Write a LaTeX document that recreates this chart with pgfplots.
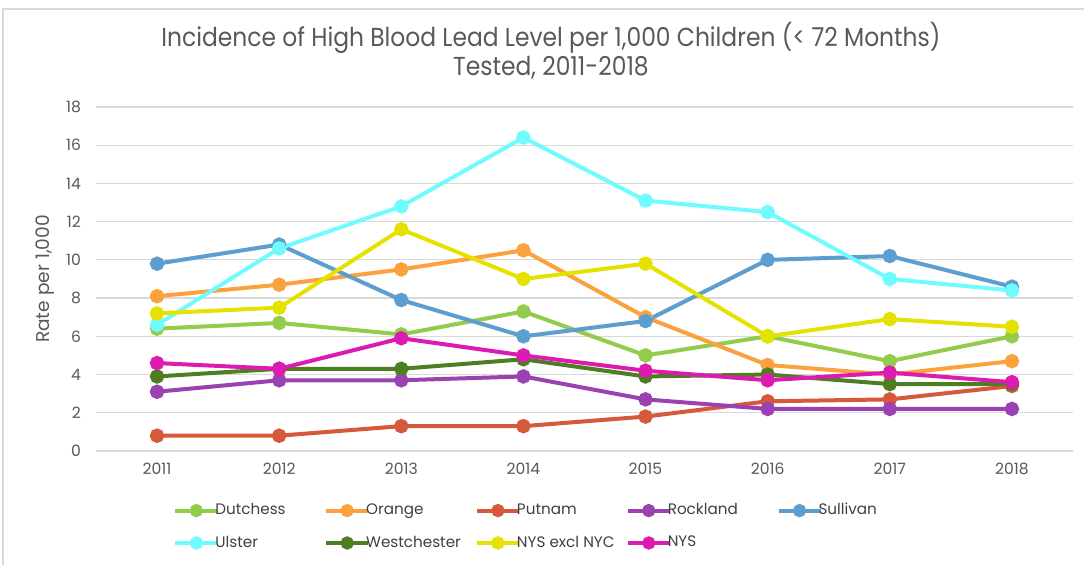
\documentclass[border=0pt]{standalone}
\usepackage{fontspec}
\setmainfont{Poppins}[FakeStretch=0.8]
\newfontfamily\tickfont{Poppins}
\newfontfamily\titlefont{Poppins}[FakeStretch=0.9]
\usepackage{pgfplots}
\pgfplotsset{compat=1.18}

\definecolor{cDut}{HTML}{92CC4A}
\definecolor{cOra}{HTML}{FBA23F}
\definecolor{cPut}{HTML}{D5593A}
\definecolor{cRoc}{HTML}{9A42B2}
\definecolor{cSul}{HTML}{5C9ECF}
\definecolor{cUls}{HTML}{70FBFF}
\definecolor{cWes}{HTML}{4F7E22}
\definecolor{cNyx}{HTML}{E6E200}
\definecolor{cNys}{HTML}{DD1BB0}
\definecolor{gridgray}{HTML}{D9D9D9}
\definecolor{txtgray}{HTML}{595959}
\definecolor{legtext}{HTML}{404040}

\newcommand{\legtxt}[1]{\makebox[51.4pt][l]{\hspace*{-2.5pt}#1}}

\begin{document}
\begin{tikzpicture}
\useasboundingbox (0,0) rectangle (542pt,282.5pt);
\fill[white] (0,0) rectangle (542pt,282.5pt);
\draw[gridgray, line width=0.6pt] (1.5pt,0) -- (1.5pt,278pt) -- (542pt,278pt);

\node[text=txtgray, font=\titlefont\fontsize{13}{15}\selectfont] at (275.5pt,263.5pt)
  {Incidence of High Blood Lead Level per 1,000 Children (< 72 Months)};
\node[text=txtgray, font=\titlefont\fontsize{13}{15}\selectfont] at (275.5pt,248.5pt)
  {Tested, 2011-2018};

\begin{axis}[
    at={(48pt,57pt)}, anchor=south west,
    scale only axis,
    width=488.5pt, height=172pt,
    xmin=2010.5, xmax=2018.5,
    ymin=0, ymax=18,
    xtick={2011,...,2018},
    ytick={0,2,...,18},
    xticklabel style={/pgf/number format/1000 sep={}, yshift=-2.5pt},
    yticklabel style={xshift=-4pt},
    /pgf/number format/assume math mode=true,
    tick label style={font=\tickfont\fontsize{7.8}{9}\selectfont, text=txtgray},
    major tick length=0pt,
    axis line style={draw=none},
    ymajorgrids=true,
    grid style={gridgray, line width=0.6pt},
    ylabel={Rate per 1,000},
    every axis y label/.style={at={(axis description cs:-0.0522,0.5)}, rotate=90, anchor=center},
    label style={font=\tickfont\fontsize{9.3}{11}\selectfont, text=txtgray},
    every axis plot/.append style={line width=2pt, mark=*, mark size=2.6pt},
    legend columns=5,
    legend style={at={(axis description cs:0.0788,-0.148)}, anchor=north west,
        draw=none, fill=none, inner sep=0pt, row sep=8pt,
        font=\tickfont\fontsize{7.6}{9}\selectfont, text=legtext,
        nodes={inner sep=0.5pt}},
    legend cell align=left,
    legend image code/.code={\draw[mark repeat=2,mark phase=2,#1,mark size=2.3pt]
        plot coordinates {(0pt,0pt) (10.5pt,0pt) (21pt,0pt)};},
]
\addplot[color=cDut, mark options={fill=cDut}] coordinates {
  (2011,6.4) (2012,6.7) (2013,6.1) (2014,7.3) (2015,5.0) (2016,6.0) (2017,4.7) (2018,6.0)};
\addlegendentry{\legtxt{Dutchess}}
\addplot[color=cOra, mark options={fill=cOra}] coordinates {
  (2011,8.1) (2012,8.7) (2013,9.5) (2014,10.5) (2015,7.0) (2016,4.5) (2017,4.0) (2018,4.7)};
\addlegendentry{\legtxt{Orange}}
\addplot[color=cPut, mark options={fill=cPut}] coordinates {
  (2011,0.8) (2012,0.8) (2013,1.3) (2014,1.3) (2015,1.8) (2016,2.6) (2017,2.7) (2018,3.4)};
\addlegendentry{\legtxt{Putnam}}
\addplot[color=cRoc, mark options={fill=cRoc}] coordinates {
  (2011,3.1) (2012,3.7) (2013,3.7) (2014,3.9) (2015,2.7) (2016,2.2) (2017,2.2) (2018,2.2)};
\addlegendentry{\legtxt{Rockland}}
\addplot[color=cSul, mark options={fill=cSul}] coordinates {
  (2011,9.8) (2012,10.8) (2013,7.9) (2014,6.0) (2015,6.8) (2016,10.0) (2017,10.2) (2018,8.6)};
\addlegendentry{\legtxt{Sullivan}}
\addplot[color=cUls, mark options={fill=cUls}] coordinates {
  (2011,6.6) (2012,10.6) (2013,12.8) (2014,16.4) (2015,13.1) (2016,12.5) (2017,9.0) (2018,8.4)};
\addlegendentry{\legtxt{Ulster}}
\addplot[color=cWes, mark options={fill=cWes}] coordinates {
  (2011,3.9) (2012,4.3) (2013,4.3) (2014,4.8) (2015,3.9) (2016,4.0) (2017,3.5) (2018,3.5)};
\addlegendentry{\legtxt{Westchester}}
\addplot[color=cNyx, mark options={fill=cNyx}] coordinates {
  (2011,7.2) (2012,7.5) (2013,11.6) (2014,9.0) (2015,9.8) (2016,6.0) (2017,6.9) (2018,6.5)};
\addlegendentry{\legtxt{NYS excl NYC}}
\addplot[color=cNys, mark options={fill=cNys}] coordinates {
  (2011,4.6) (2012,4.3) (2013,5.9) (2014,5.0) (2015,4.2) (2016,3.7) (2017,4.1) (2018,3.6)};
\addlegendentry{\legtxt{NYS}}
\end{axis}
\end{tikzpicture}
\end{document}
